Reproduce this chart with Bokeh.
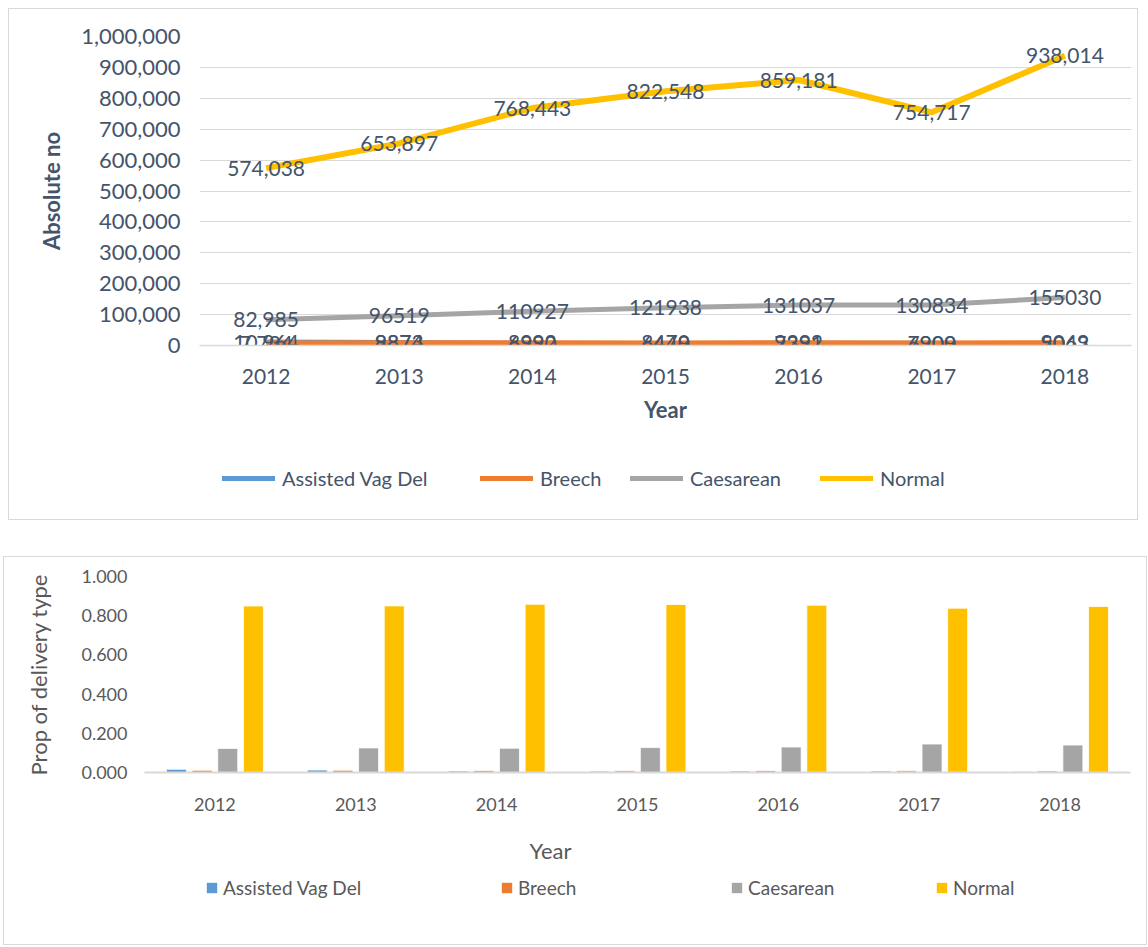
from bokeh.plotting import figure
from bokeh.models import (Range1d, FactorRange, NumeralTickFormatter, Legend, LegendItem,
                          Label, ColumnDataSource, SingleIntervalTicker)
from bokeh.transform import dodge
from bokeh.core.properties import value
from bokeh.embed import file_html
from bokeh.resources import INLINE

years = ["2012", "2013", "2014", "2015", "2016", "2017", "2018"]
series_names = ["Assisted Vag Del", "Breech", "Caesarean", "Normal"]
colors = ["#5B9BD5", "#ED7D31", "#A5A5A5", "#FFC000"]

assisted = [10964, 9873, 6990, 6449, 7391, 6900, 5043]
breech = [7734, 8874, 8992, 8470, 9292, 7909, 9069]
caesarean = [82985, 96519, 110927, 121938, 131037, 130834, 155030]
normal = [574038, 653897, 768443, 822548, 859181, 754717, 938014]

prop_assisted = [0.0162, 0.0128, 0.0078, 0.0067, 0.0073, 0.0077, 0.0046]
prop_breech = [0.0114, 0.0115, 0.0100, 0.0088, 0.0092, 0.0088, 0.0082]
prop_caesarean = [0.1228, 0.1255, 0.1239, 0.1271, 0.1301, 0.1453, 0.1400]
prop_normal = [0.8495, 0.8501, 0.8583, 0.8574, 0.8533, 0.8382, 0.8472]

FONT = "Lato"
TOP_TXT = "#44546A"
BOT_TXT = "#595959"
GRID = "#D9D9D9"
BORDER = "1px solid #D9D9D9"
NAN = float("nan")


def blank_fig(width, height, styles):
    f = figure(width=width, height=height, x_range=Range1d(0, 1), y_range=Range1d(0, 1),
               min_border=0, x_axis_location=None, y_axis_location=None,
               output_backend="svg", toolbar_location=None)
    f.outline_line_color = None
    f.xgrid.grid_line_color = None
    f.ygrid.grid_line_color = None
    f.styles = styles
    return f


# ---------------- top chart ----------------
p1 = figure(x_range=FactorRange(factors=years, range_padding=0),
            y_range=Range1d(0, 1000000),
            width=1130, height=426,
            min_border_left=190, min_border_right=8, min_border_top=27, min_border_bottom=90,
            output_backend="svg", toolbar_location=None)
p1.styles = {"border-left": BORDER, "border-right": BORDER, "border-top": BORDER,
             "margin-left": "8px", "margin-top": "8px"}
p1.outline_line_color = None
p1.xgrid.grid_line_color = None
p1.ygrid.grid_line_color = GRID
p1.ygrid.grid_line_width = 1
p1.yaxis.ticker = SingleIntervalTicker(interval=100000)
p1.yaxis.formatter = NumeralTickFormatter(format="0,0")
p1.yaxis.axis_line_color = None
p1.yaxis.major_tick_line_color = None
p1.yaxis.minor_tick_line_color = None
p1.yaxis.major_label_standoff = 13
p1.yaxis.axis_label = "Absolute no"
p1.yaxis.axis_label_standoff = 13
p1.xaxis.axis_label = "Year"
p1.xaxis.axis_line_color = GRID
p1.xaxis.axis_line_width = 1.5
p1.xaxis.major_tick_line_color = None
p1.xaxis.major_label_standoff = 17
p1.xaxis.axis_label_standoff = 9
for ax in (p1.xaxis[0], p1.yaxis[0]):
    ax.major_label_text_font = FONT
    ax.major_label_text_font_size = "21px"
    ax.major_label_text_color = TOP_TXT
    ax.axis_label_text_font = FONT
    ax.axis_label_text_font_size = "22px"
    ax.axis_label_text_font_style = "bold"
    ax.axis_label_text_color = TOP_TXT
p1.yaxis.major_label_text_font_size = "22px"

top_series = [assisted, breech, caesarean, normal]
widths = [5, 5, 5, 6]
for vals, c, w in zip(top_series, colors, widths):
    p1.line(x=years, y=vals, line_color=c, line_width=w, line_join="round")

for vals, comma_all in zip(top_series, [False, False, False, True]):
    labels = [f"{v:,}" if (comma_all or i == 0) else str(v) for i, v in enumerate(vals)]
    p1.text(x=years, y=vals, text=labels, text_align="center", text_baseline="middle",
            text_font=value(FONT), text_font_size="21px", text_color=TOP_TXT)

# legend strip of the top panel
lg1 = blank_fig(1130, 86, {"border-left": BORDER, "border-right": BORDER,
                           "border-bottom": BORDER, "margin-left": "8px"})
top_leg_x = [213, 471, 621, 811]
for name, c, lx in zip(series_names, colors, top_leg_x):
    r = lg1.line(x=[NAN], y=[NAN], line_color=c, line_width=5, line_cap="round")
    lg = Legend(items=[LegendItem(label=name, renderers=[r])], location=(lx, 30),
                orientation="horizontal", padding=0, margin=0, border_line_color=None,
                background_fill_alpha=0, glyph_width=53, glyph_height=20, label_height=20,
                label_standoff=7, label_text_font=FONT, label_text_font_size="20px",
                label_text_color=TOP_TXT)
    lg1.add_layout(lg, "center")

# ---------------- bottom chart ----------------
src = ColumnDataSource(dict(year=years, a=prop_assisted, b=prop_breech,
                            c=prop_caesarean, n=prop_normal))
p2 = figure(x_range=FactorRange(factors=years, range_padding=0),
            y_range=Range1d(0, 1.0),
            width=1144, height=272,
            min_border_left=140, min_border_right=18, min_border_top=19, min_border_bottom=57,
            output_backend="svg", toolbar_location=None)
p2.styles = {"border-left": BORDER, "border-right": BORDER, "border-top": BORDER,
             "margin-left": "3px", "margin-top": "36px"}
p2.outline_line_color = None
p2.xgrid.grid_line_color = None
p2.ygrid.grid_line_color = None
p2.yaxis.ticker = SingleIntervalTicker(interval=0.2)
p2.yaxis.formatter = NumeralTickFormatter(format="0.000")
p2.yaxis.axis_line_color = None
p2.yaxis.major_tick_line_color = None
p2.yaxis.minor_tick_line_color = None
p2.yaxis.major_label_standoff = 11
p2.yaxis.axis_label = "Prop of delivery type"
p2.yaxis.axis_label_standoff = 26
p2.xaxis.axis_line_color = GRID
p2.xaxis.axis_line_width = 2
p2.xaxis.major_tick_line_color = None
p2.xaxis.major_label_standoff = 19
for ax in (p2.xaxis[0], p2.yaxis[0]):
    ax.major_label_text_font = FONT
    ax.major_label_text_font_size = "18px"
    ax.major_label_text_color = BOT_TXT
    ax.axis_label_text_font = FONT
    ax.axis_label_text_font_size = "22px"
    ax.axis_label_text_font_style = "normal"
    ax.axis_label_text_color = BOT_TXT

offsets = [-0.273, -0.091, 0.091, 0.273]
for col, c, off in zip(["a", "b", "c", "n"], colors, offsets):
    p2.vbar(x=dodge("year", off, range=p2.x_range), top=col, width=0.142, source=src,
            fill_color=c, line_color="white", line_width=0.8)

# legend strip of the bottom panel
lg2 = blank_fig(1144, 117, {"border-left": BORDER, "border-right": BORDER,
                            "border-bottom": BORDER, "margin-left": "3px"})
lg2.add_layout(Label(x=546, y=95, x_units="screen", y_units="screen", text="Year",
                     text_align="center", text_baseline="middle", text_font=FONT,
                     text_font_size="22px", text_color=BOT_TXT))
bot_leg_x = [201, 496, 726, 931]
for name, c, lx in zip(series_names, colors, bot_leg_x):
    r = lg2.vbar(x=[NAN], top=[NAN], width=0.1, fill_color=c, line_color=None)
    lg = Legend(items=[LegendItem(label=name, renderers=[r])], location=(lx, 46),
                orientation="horizontal", padding=0, margin=0, border_line_color=None,
                background_fill_alpha=0, glyph_width=13, glyph_height=13, label_height=13,
                label_standoff=5, label_text_font=FONT, label_text_font_size="19px",
                label_text_color=BOT_TXT)
    lg2.add_layout(lg, "center")

open("out.html", "w").write(file_html([p1, lg1, p2, lg2], INLINE))
